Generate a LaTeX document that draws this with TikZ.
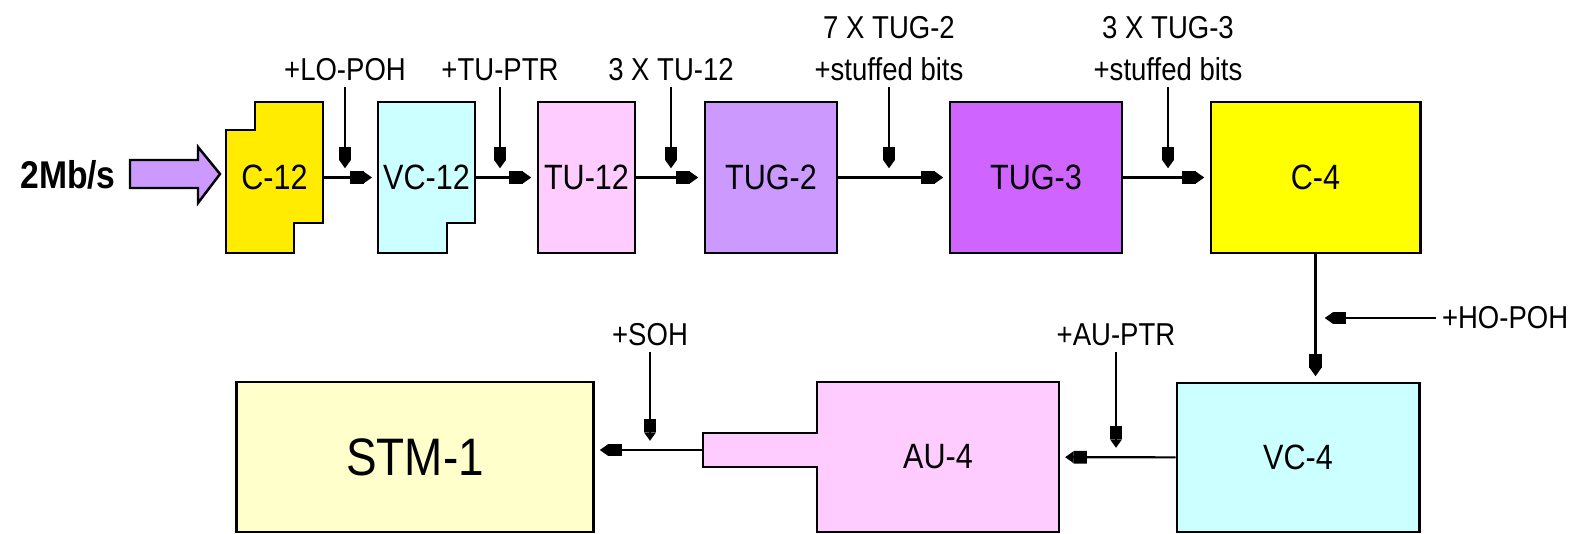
\documentclass[tikz,border=0pt]{standalone}
\usepackage{fontspec}
\setmainfont{Liberation Sans}[FakeStretch=0.87]
\usepackage{tikz}
\usetikzlibrary{arrows.meta}
\definecolor{inpurple}{RGB}{204,153,255}
\definecolor{c12yellow}{RGB}{255,236,0}
\definecolor{lowcyan}{RGB}{204,255,255}
\definecolor{lowpink}{RGB}{255,204,255}
\definecolor{tug2purple}{RGB}{204,153,255}
\definecolor{tug3violet}{RGB}{208,100,255}
\definecolor{c4yellow}{RGB}{255,255,0}
\definecolor{stmcream}{RGB}{255,255,204}

\begin{document}
\begin{tikzpicture}[
    x=0.01cm,
    y=-0.01cm,
    box/.style={
        draw,
        line width=0.8pt,
        inner sep=0pt,
        minimum height=1.51cm,
        font=\fontsize{10}{12}\selectfont
    },
    plain/.style={
        inner sep=0pt,
        minimum height=1.51cm,
        font=\fontsize{10}{12}\selectfont
    },
    tag/.style={
        align=center,
        inner sep=1.5pt,
        font=\fontsize{9}{12}\selectfont
    },
    flow/.style={
        -{Rectangle[length=3.8pt,width=3.6pt]Triangle[length=2.4pt,width=3.2pt]},
        line width=0.6pt,
        shorten >=1.5pt
    },
    feed/.style={
        flow,
        shorten >=2.6pt
    }
]
\useasboundingbox (0,0) rectangle (1574,534);

% ============================================================
% INPUT
% ============================================================

\node[font=\bfseries\fontsize{11}{13}\selectfont] (rate) at (68,175) {2Mb/s};

\draw[line width=0.7pt, fill=inpurple]
(130,160) -- (198,160) -- (198,147) -- (220,174) -- (198,203) -- (198,188) -- (130,188) -- cycle;

% ============================================================
% TOP ROW
% ============================================================

% C-12 with notches
\draw[line width=0.8pt, fill=c12yellow]
(226,130) -- (255,130) -- (255,102) -- (323,102) -- (323,223)
-- (294,223) -- (294,253) -- (226,253) -- cycle;
\node[plain, minimum width=0.97cm] (c12) at (274.5,177.5) {C-12};

% VC-12 with notch
\draw[line width=0.8pt, fill=lowcyan]
(378,102) -- (475,102) -- (475,223) -- (447,223) -- (447,253)
-- (378,253) -- cycle;
\node[plain, minimum width=0.97cm] (vc12) at (426.5,177.5) {VC-12};

\node[box, fill=lowpink, minimum width=0.97cm] (tu12) at (586.5,177.5) {TU-12};

\node[box, fill=tug2purple, minimum width=1.32cm] (tug2) at (771,177.5) {TUG-2};

\node[box, fill=tug3violet, minimum width=1.72cm] (tug3) at (1036,177.5) {TUG-3};

\node[box, fill=c4yellow, minimum width=2.09cm] (c4) at (1315.5,177.5) {C-4};

\draw[flow] (c12) -- (vc12);
\draw[flow] (vc12) -- (tu12);
\draw[flow] (tu12) -- (tug2);
\draw[flow] (tug2) -- (tug3);
\draw[flow] (tug3) -- (c4);

% added overheads
\node[tag] (lopoh) at (345,70) {+LO-POH};
\node[tag] (tuptr) at (500,70) {+TU-PTR};
\node[tag] (tu12x) at (671,70) {3 X TU-12};
\node[tag] (tug2x) at (889,49) {7 X TUG-2\\+stuffed bits};
\node[tag] (tug3x) at (1168,49) {3 X TUG-3\\+stuffed bits};

\draw[feed] (lopoh) -- (lopoh |- c12);
\draw[feed] (tuptr) -- (tuptr |- vc12);
\draw[feed] (tu12x) -- (tu12x |- tu12);
\draw[feed] (tug2x) -- (tug2x |- tug2);
\draw[feed] (tug3x) -- (tug3x |- tug3);

% ============================================================
% BOTTOM ROW
% ============================================================

\node[box, fill=stmcream, minimum width=3.56cm, minimum height=1.5cm,
      font=\fontsize{15}{18}\selectfont] (stm1) at (415,457) {STM-1};

% AU-4 with pointer stub
\draw[line width=0.8pt, fill=lowpink]
(703,433) -- (817,433) -- (817,382) -- (1059,382) -- (1059,532)
-- (817,532) -- (817,467) -- (703,467) -- cycle;
\node[plain, minimum width=2.42cm, minimum height=1.5cm] (au4) at (938,457) {AU-4};
\node[inner sep=0pt, minimum width=1.14cm, minimum height=0.34cm] (au4stub) at (760,450) {};

\node[box, fill=lowcyan, minimum width=2.42cm, minimum height=1.49cm] (vc4) at (1298,457.5) {VC-4};

\draw[flow] (c4.south) -- (c4.south |- vc4.north);
\draw[flow] (vc4) -- (au4);
\draw[flow] (au4stub.west) -- (au4stub.west -| stm1.east);

\node[tag] (soh) at (650,335) {+SOH};
\node[tag] (auptr) at (1116,335) {+AU-PTR};
\node[tag, anchor=west] (hopoh) at (1436,318) {+HO-POH};

\draw[feed] (soh) -- (soh |- au4stub);
\draw[feed] (auptr) -- (auptr |- au4);
\draw[feed] (hopoh) -- (hopoh -| c4.south);

\end{tikzpicture}
\end{document}
